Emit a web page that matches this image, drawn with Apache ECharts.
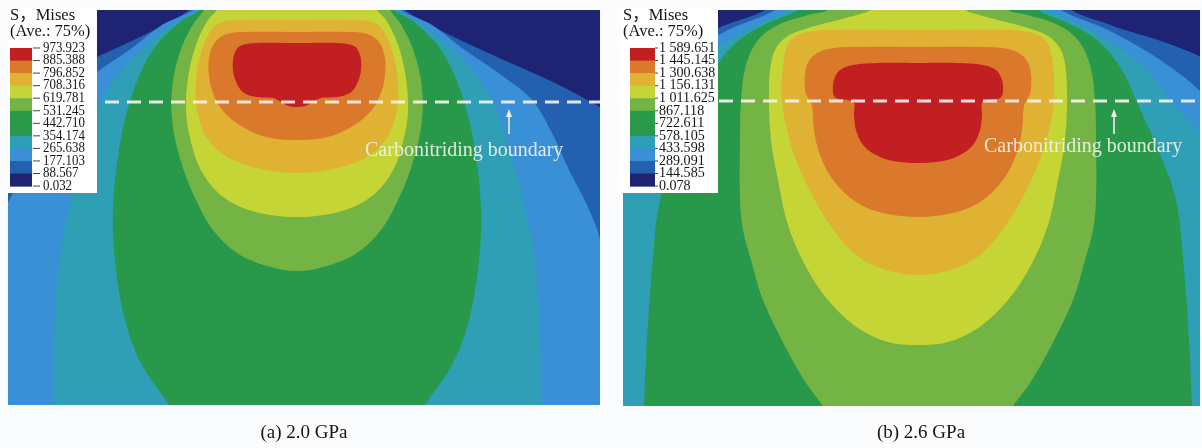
<!DOCTYPE html>
<html><head><meta charset="utf-8">
<script src="https://cdn.jsdelivr.net/npm/echarts@6/dist/echarts.min.js"></script>
<style>html,body{margin:0;padding:0;background:#fbfcfd}#c{width:1202px;height:448px}</style>
</head><body><div id="c"></div>
<script>
// ---------- legend tick labels (S, Mises, Ave.: 75%) ----------
const labelsA = ['973.923','885.388','796.852','708.316','619.781','531.245','442.710','354.174','265.638','177.103','88.567','0.032'];
const labelsB = ['1 589.651','1 445.145','1 300.638','1 156.131','1 011.625','867.118','722.611','578.105','433.598','289.091','144.585','0.078'];
// band colours, highest band first
const bandColors = ['#c11f21','#da782b','#dfb234','#c6d536','#74b445','#2a9a48','#28984a','#2f9fb5','#3a90d6','#2360b0','#1e2473'];
const captions = ['(a) 2.0 GPa','(b) 2.6 GPa'];

// ---------- contour half-profiles [r, depth] ----------
// panel (a): r measured from load axis, depth from surface (pixel-like units)
const A088 = [[102,-10],[108,0],[143,20],[200,47],[258,73],[303,97],[350,125],[420,170],[420,430],[0,430]];
const A177 = [[99,-10],[104,0],[135,15],[165,38],[200,62],[235,90],[256,125],[272,160],[290,195],[303,230],[312,300],[318,395],[320,430],[0,430]];
const A265 = [[95,-10],[100,0],[125,15],[150,35],[175,60],[195,90],[212,140],[226,190],[236,240],[242,300],[244,395],[244,430],[0,430]];
const A354 = [[92,-10],[97,0],[117,12],[144,40],[165,85],[178,140],[184,200],[182,250],[172,310],[155,355],[128,395],[110,430],[0,430]];
const A531 = [[88,-10],[93,0],[105,16],[117,42],[125,78],[124,118],[114,158],[101,190],[84,220],[60,243],[30,256],[0,261]];
const A619 = [[76,-10],[80,0],[89,10],[100,32],[108,62],[111,100],[106,132],[95,162],[75,186],[45,201],[0,207]];
const A708 = [[0,10],[55,10],[75,12],[86,20],[95,40],[101,70],[100,100],[90,128],[68,148],[36,159],[0,163]];
const A796 = [[0,22],[50,22],[70,24],[82,32],[88,48],[88,65],[85,80],[77,97],[62,112],[40,124],[20,129],[0,130]];
const A885 = [[0,33],[40,33],[57,36],[63,45],[64,60],[60,74],[53,83],[40,87],[24,88],[16,92],[8,96],[0,97]];
// panel (b)
const B144 = [[150,-10],[153,0],[190,14],[200,18],[240,30],[262,38],[281,46],[320,68],[420,130],[420,430],[0,430]];
const B289 = [[140,-10],[143,0],[190,20],[233,44],[262,64],[281,80],[300,100],[340,150],[380,250],[390,430],[0,430]];
const B433 = [[126,-10],[130,0],[165,16],[200,37],[230,61],[252,90],[270,110],[281,123],[290,150],[297,200],[301,260],[303,330],[305,430],[0,430]];
const B578 = [[115,-10],[120,0],[150,13],[175,27],[191,42],[205,62],[218,90],[240,140],[258,190],[266,260],[271,330],[274,396],[275,430],[0,430]];
const B867 = [[86,-10],[90,0],[110,5],[140,15],[160,30],[172,55],[177,90],[178,130],[178,190],[175,220],[167,250],[155,290],[131,340],[112,373],[95,396],[80,420],[70,440],[0,440]];
const B1011 = [[45,-10],[48,0],[58,4],[80,10],[110,18],[133,28],[145,45],[149,80],[147,130],[140,170],[130,215],[113,255],[90,290],[60,318],[30,332],[0,335]];
const B1156 = [[0,20],[90,20],[118,24],[130,34],[135,55],[136,90],[131,120],[122,150],[106,185],[88,215],[62,245],[32,260],[0,265]];
const B1300 = [[0,37],[60,37],[90,39],[105,46],[112,58],[113,80],[110,88],[106,96],[104,120],[98,145],[85,170],[62,192],[35,203],[0,207]];
const B1445 = [[0,53],[40,53],[65,55],[78,60],[84,70],[85,82],[82,88],[70,90],[64,93],[64,105],[62,120],[55,135],[42,145],[25,151],[0,153]];

// contour level index (1 = lowest drawn boundary) paired with its profile
const contoursA = [[1,A088],[2,A177],[3,A265],[4,A354],[6,A531],[7,A619],[8,A708],[9,A796],[10,A885]];
const contoursB = [[1,B144],[2,B289],[3,B433],[4,B578],[6,B867],[7,B1011],[8,B1156],[9,B1300],[10,B1445]];

// carbonitriding boundary (dashed line) ends [r, depth]
const boundaryA = [[-192,92],[303,92]];
const boundaryB = [[-199,91],[282,91]];

function fullPolygon(profile){
  const left = profile.filter(p => p[0] !== 0).map(p => [-p[0], p[1]]).reverse();
  return profile.concat(left);
}
function bandColorAbove(k){ return bandColors[10 - k]; }

function contourSeries(idx, contours){
  return {
    type:'custom', xAxisIndex:idx, yAxisIndex:idx, clip:true, silent:true, z:2,
    data: contours.map((c,i)=>[0, i]),
    renderItem(params, api){
      const c = contours[params.dataIndex];
      const pts = fullPolygon(c[1]).map(p => api.coord(p));
      const cs = params.coordSys;
      return {type:'group',
        clipPath:{type:'rect', shape:{x:cs.x, y:cs.y, width:cs.width, height:cs.height}},
        children:[{type:'polygon', shape:{points:pts, smooth:0.35}, style:{fill:bandColorAbove(c[0]), stroke:null}}]};
    }
  };
}
function boundarySeries(idx, data){
  return {type:'line', xAxisIndex:idx, yAxisIndex:idx, data:data, symbol:'none', silent:true, z:5,
    lineStyle:{color:'rgba(246,240,236,0.92)', width:3, type:[14,8]}};
}

const serif = '"Liberation Serif", "Times New Roman", serif';
function legendGraphics(x0, boxW, labels, swX, swW, t1, t2, labX, sx){
  const els = [];
  const top = 48, step = 12.55;
  els.push({type:'rect', shape:{x:x0, y:7, width:boxW, height:186}, style:{fill:'#ffffff'}, z:100});
  els.push({type:'text', x:x0+3, y:16, z:101, style:{text:'S，Mises', fontSize:16.5, fontFamily:serif+',"Noto Sans CJK SC"', fill:'#151515', verticalAlign:'middle'}});
  els.push({type:'text', x:x0+3, y:32, z:101, style:{text:'(Ave.: 75%)', fontSize:16.5, fontFamily:serif, fill:'#151515', verticalAlign:'middle'}});
  bandColors.forEach((col,i)=>{
    els.push({type:'rect', shape:{x:swX, y:top+step*i, width:swW, height:step+0.6}, style:{fill:col}, z:101});
  });
  labels.forEach((lab,i)=>{
    const y = top + step*i;
    els.push({type:'line', shape:{x1:t1, y1:y, x2:t2, y2:y}, style:{stroke:'#444', lineWidth:1}, z:101});
    els.push({type:'text', x:labX, y:y, scaleX:sx, z:102, style:{text:lab, fontSize:14.5, fontFamily:serif, fill:'#151515', verticalAlign:'middle'}});
  });
  return els;
}
function arrow(x, yTail, yTip){
  return [
    {type:'line', shape:{x1:x, y1:yTail, x2:x, y2:yTip+5}, style:{stroke:'rgba(246,244,240,0.95)', lineWidth:1.6}, z:60},
    {type:'polygon', shape:{points:[[x,yTip],[x-3,yTip+8],[x+3,yTip+8]]}, style:{fill:'rgba(246,244,240,0.95)'}, z:60}
  ];
}
const annoFont = 20;
const graphics = [].concat(
  legendGraphics(7, 90, labelsA, 10, 22, 33, 40, 43, 0.89),
  legendGraphics(620, 98, labelsB, 630, 25, 655, 658, 659, 0.97),
  arrow(509, 134, 109), arrow(1114, 134, 109),
  [
    {type:'text', x:365, y:151, z:60, style:{text:'Carbonitriding boundary', fontSize:annoFont, fontFamily:serif, fill:'rgba(240,242,232,0.92)', verticalAlign:'middle'}},
    {type:'text', x:984, y:147, z:60, style:{text:'Carbonitriding boundary', fontSize:annoFont, fontFamily:serif, fill:'rgba(240,242,232,0.92)', verticalAlign:'middle'}},
    {type:'text', x:304, y:433, z:60, style:{text:captions[0], fontSize:19, fontFamily:serif, fill:'#151515', align:'center', verticalAlign:'middle'}},
    {type:'text', x:921, y:433, z:60, style:{text:captions[1], fontSize:19, fontFamily:serif, fill:'#151515', align:'center', verticalAlign:'middle'}}
  ]
);

const chart = echarts.init(document.getElementById('c'), null, {renderer:'canvas'});
chart.setOption({
  animation:false,
  backgroundColor:'#fbfcfd',
  grid:[
    {left:8, top:10, width:592, height:395, show:true, backgroundColor:bandColors[10], borderWidth:0},
    {left:623, top:10, width:577, height:396, show:true, backgroundColor:bandColors[10], borderWidth:0}
  ],
  xAxis:[
    {type:'value', gridIndex:0, min:-289, max:303, show:false},
    {type:'value', gridIndex:1, min:-295, max:282, show:false}
  ],
  yAxis:[
    {type:'value', gridIndex:0, min:0, max:395, inverse:true, show:false},
    {type:'value', gridIndex:1, min:0, max:396, inverse:true, show:false}
  ],
  series:[
    contourSeries(0, contoursA), contourSeries(1, contoursB),
    boundarySeries(0, boundaryA), boundarySeries(1, boundaryB)
  ],
  graphic: graphics
});
</script></body></html>
